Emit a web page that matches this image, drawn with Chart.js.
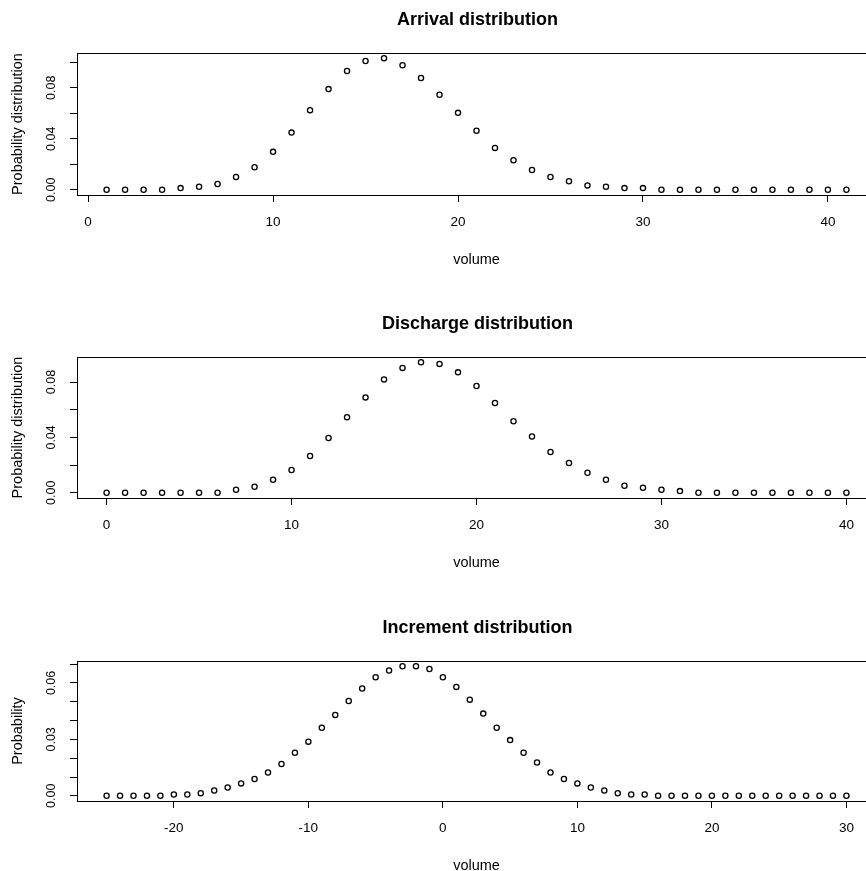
<!DOCTYPE html>
<html>
<head>
<meta charset="utf-8">
<script src="https://cdn.jsdelivr.net/npm/chart.js@4.4.1/dist/chart.umd.min.js"></script>
<style>
  html, body { margin: 0; padding: 0; background: #ffffff; }
  body { width: 866px; height: 871px; overflow: hidden; position: relative; }
  canvas { position: absolute; left: 0; }
</style>
</head>
<body>
<canvas id="c1" width="890" height="290" style="top:0px"></canvas>
<canvas id="c2" width="890" height="290" style="top:304px"></canvas>
<canvas id="c3" width="890" height="263" style="top:608px"></canvas>
<script>
// ---------- Arrival distribution ----------
const arrivalX = [1,2,3,4,5,6,7,8,9,10,11,12,13,14,15,16,17,18,19,20,21,22,23,24,25,26,27,28,29,30,31,32,33,34,35,36,37,38,39,40,41];
const arrivalY = [0,0,0,0,0.0013,0.0024,0.0045,0.0100,0.0176,0.0297,0.0448,0.0624,0.0789,0.0931,0.1010,0.1031,0.0976,0.0876,0.0745,0.0603,0.0462,0.0328,0.0231,0.0155,0.0100,0.0066,0.0034,0.0024,0.0013,0.0013,0,0,0,0,0,0,0,0,0,0,0];
const arrivalXTicks = [0,10,20,30,40];
const arrivalYTicks = [0,0.02,0.04,0.06,0.08,0.10];
const arrivalYLabels = ["0.00","0.04","0.08"];

// ---------- Discharge distribution ----------
const dischargeX = [0,1,2,3,4,5,6,7,8,9,10,11,12,13,14,15,16,17,18,19,20,21,22,23,24,25,26,27,28,29,30,31,32,33,34,35,36,37,38,39,40];
const dischargeY = [0,0,0,0,0,0,0,0.0022,0.0044,0.0094,0.0164,0.0266,0.0396,0.0546,0.0689,0.0819,0.0902,0.0943,0.0931,0.0870,0.0771,0.0648,0.0517,0.0406,0.0295,0.0215,0.0145,0.0094,0.0051,0.0036,0.0022,0.0012,0,0,0,0,0,0,0,0,0];
const dischargeXTicks = [0,10,20,30,40];
const dischargeYTicks = [0,0.02,0.04,0.06,0.08];
const dischargeYLabels = ["0.00","0.04","0.08"];

// ---------- Increment distribution ----------
const incrementX = [-25,-24,-23,-22,-21,-20,-19,-18,-17,-16,-15,-14,-13,-12,-11,-10,-9,-8,-7,-6,-5,-4,-3,-2,-1,0,1,2,3,4,5,6,7,8,9,10,11,12,13,14,15,16,17,18,19,20,21,22,23,24,25,26,27,28,29,30];
const incrementY = [0,0,0,0,0,0.0007,0.0007,0.0014,0.0028,0.0044,0.0066,0.0089,0.0124,0.0169,0.0229,0.0288,0.0362,0.0430,0.0504,0.0570,0.0630,0.0666,0.0689,0.0689,0.0674,0.0630,0.0579,0.0511,0.0437,0.0362,0.0296,0.0229,0.0177,0.0124,0.0089,0.0066,0.0044,0.0028,0.0014,0.0007,0.0007,0,0,0,0,0,0,0,0,0,0,0,0,0,0,0];
const incrementXTicks = [-20,-10,0,10,20,30];
const incrementYTicks = [0,0.01,0.02,0.03,0.04,0.05,0.06,0.07];
const incrementYLabels = ["0.00","0.03","0.06"];

const FONT = "'Liberation Sans', Arial, sans-serif";

function rRange(vals) {
  const lo = Math.min(...vals), hi = Math.max(...vals);
  const d = (hi - lo) * 0.04;
  return [lo - d, hi + d];
}

function makePanel(id, xs, ys, xTicks, yTicks, yLabels, title, yTitle, areaH) {
  const canvas = document.getElementById(id);
  const xr = rRange(xs), yr = rRange(ys);
  const H = canvas.height;
  const plug = {
    id: 'rdecor',
    afterDraw(chart) {
      const ctx = chart.ctx, a = chart.chartArea;
      const ys = chart.scales.y;
      ctx.save();
      ctx.strokeStyle = '#000';
      ctx.lineWidth = 1;
      ctx.strokeRect(Math.round(a.left) + 0.5, Math.round(a.top) + 0.5,
                     Math.round(a.right - a.left), Math.round(a.bottom - a.top));
      const cx = (a.left + a.right) / 2;
      ctx.fillStyle = '#000';
      ctx.textAlign = 'center';
      ctx.textBaseline = 'middle';
      ctx.font = 'bold 18px ' + FONT;
      ctx.fillText(title, cx + 1, a.top - 33);
      ctx.font = '14.5px ' + FONT;
      ctx.fillText('volume', cx, a.bottom + 65);
      // y title
      ctx.save();
      ctx.translate(18, (a.top + a.bottom) / 2);
      ctx.rotate(-Math.PI / 2);
      ctx.font = '14.5px ' + FONT;
      ctx.fillText(yTitle, 0, 0);
      ctx.restore();
      // y tick labels (rotated, R style)
      yLabels.forEach(lab => {
        const py = ys.getPixelForValue(parseFloat(lab));
        ctx.save();
        ctx.translate(52, py);
        ctx.rotate(-Math.PI / 2);
        ctx.font = '12.5px ' + FONT;
        ctx.fillText(lab, 0, 0);
        ctx.restore();
      });
      ctx.restore();
    }
  };
  return new Chart(canvas, {
    type: 'scatter',
    data: {
      datasets: [{
        data: xs.map((x, i) => ({ x: x, y: ys[i] })),
        pointStyle: 'circle',
        pointRadius: 2.6,
        pointBorderWidth: 1.3,
        pointBorderColor: '#000',
        pointBackgroundColor: 'rgba(0,0,0,0)',
        showLine: false
      }]
    },
    options: {
      responsive: false,
      animation: false,
      devicePixelRatio: 1,
      events: [],
      layout: { padding: { top: 53, left: 67, right: 14, bottom: H - 53 - areaH - 80 } },
      plugins: { legend: { display: false }, tooltip: { enabled: false }, title: { display: false } },
      scales: {
        x: {
          type: 'linear',
          min: xr[0], max: xr[1],
          afterBuildTicks: s => { s.ticks = xTicks.map(v => ({ value: v })); },
          afterFit: s => { s.height = 80; },
          grid: { drawOnChartArea: false, drawTicks: true, tickLength: 7, color: '#000', lineWidth: 1 },
          border: { display: false },
          ticks: {
            autoSkip: false, maxRotation: 0, minRotation: 0, padding: 12,
            color: '#000', font: { family: FONT, size: 13.5 },
            callback: v => String(v)
          }
        },
        y: {
          type: 'linear',
          min: yr[0], max: yr[1],
          afterBuildTicks: s => { s.ticks = yTicks.map(v => ({ value: v })); },
          afterFit: s => { s.width = 10; },
          grid: { drawOnChartArea: false, drawTicks: true, tickLength: 7, color: '#000', lineWidth: 1 },
          border: { display: false },
          ticks: { display: false }
        }
      }
    },
    plugins: [plug]
  });
}

makePanel('c1', arrivalX, arrivalY, arrivalXTicks, arrivalYTicks, arrivalYLabels, 'Arrival distribution', 'Probability distribution', 142);
makePanel('c2', dischargeX, dischargeY, dischargeXTicks, dischargeYTicks, dischargeYLabels, 'Discharge distribution', 'Probability distribution', 141);
makePanel('c3', incrementX, incrementY, incrementXTicks, incrementYTicks, incrementYLabels, 'Increment distribution', 'Probability', 140);
</script>
</body>
</html>
